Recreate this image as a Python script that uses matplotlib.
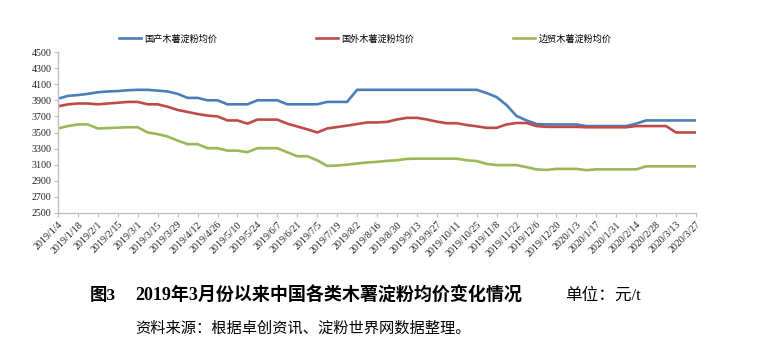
import datetime as dt

import matplotlib
matplotlib.use("Agg")
import matplotlib.pyplot as plt

plt.rcParams["font.family"] = ["Liberation Serif", "Noto Sans CJK SC", "DejaVu Sans"]

# weekly dates 2019/1/4 .. 2020/3/27
start = dt.date(2019, 1, 4)
dates = [start + dt.timedelta(weeks=i) for i in range(65)]
date_labels = [f"{d.year}/{d.month}/{d.day}" for d in dates]

series_names = ["国产木薯淀粉均价", "国外木薯淀粉均价", "边贸木薯淀粉均价"]

domestic = [3920, 3955, 3965, 3980, 4000, 4010, 4015, 4025, 4030, 4030,
            4020, 4010, 3980, 3930, 3930, 3900, 3900, 3850, 3850, 3850,
            3900, 3900, 3900, 3850, 3850, 3850, 3850, 3880, 3880, 3880,
            4030, 4030, 4030, 4030, 4030, 4030, 4030, 4030, 4030, 4030,
            4030, 4030, 4030, 3990, 3940, 3840, 3705, 3650, 3605, 3600,
            3600, 3600, 3600, 3580, 3580, 3580, 3580, 3580, 3610, 3650,
            3650, 3650, 3650, 3650, 3650]

foreign = [3825, 3850, 3860, 3860, 3850, 3860, 3870, 3880, 3880, 3850,
           3850, 3820, 3780, 3755, 3730, 3710, 3700, 3650, 3650, 3610,
           3660, 3660, 3660, 3610, 3575, 3540, 3500, 3550, 3568, 3585,
           3605, 3625, 3625, 3632, 3662, 3682, 3682, 3662, 3635, 3615,
           3615, 3593, 3577, 3558, 3558, 3600, 3618, 3618, 3580, 3570,
           3570, 3570, 3570, 3565, 3565, 3565, 3565, 3565, 3580, 3580,
           3580, 3580, 3500, 3500, 3500]

border = [3550, 3580, 3600, 3600, 3550, 3555, 3560, 3565, 3565, 3500,
          3480, 3450, 3400, 3355, 3355, 3305, 3305, 3275, 3275, 3255,
          3305, 3305, 3305, 3255, 3205, 3205, 3155, 3085, 3090, 3100,
          3115, 3128, 3135, 3148, 3155, 3172, 3175, 3175, 3175, 3175,
          3175, 3155, 3145, 3110, 3095, 3095, 3095, 3070, 3042, 3035,
          3048, 3048, 3048, 3032, 3042, 3042, 3042, 3042, 3042, 3080,
          3080, 3080, 3080, 3080, 3080]

colors = ["#4a7ebb", "#be4b48", "#98b954"]
axis_gray = "#bfbfbf"

fig = plt.figure(figsize=(7.74, 3.54), dpi=100)
ax = fig.add_axes([58 / 774, 1 - 213 / 354, 638 / 774, 161 / 354])

x = list(range(len(dates)))
for vals, name, c in zip([domestic, foreign, border], series_names, colors):
    ax.plot(x, vals, color=c, lw=1.9, label=name, solid_joinstyle="round")

ax.set_xlim(0, 64)
ax.set_ylim(2500, 4500)
ax.set_yticks(range(2500, 4501, 200))
ax.set_xticks(x[::2])
ax.set_xticklabels(date_labels[::2], rotation=45, ha="right",
                   rotation_mode="anchor", fontsize=7.2)
ax.tick_params(axis="y", labelsize=7.2, length=3, color=axis_gray, pad=1.5,
               labelcolor="#222222")
ax.tick_params(axis="x", length=3, color=axis_gray, pad=2,
               labelcolor="#222222")

for side in ["top", "right"]:
    ax.spines[side].set_visible(False)
for side in ["left", "bottom"]:
    ax.spines[side].set_color(axis_gray)
    ax.spines[side].set_linewidth(1.0)

fig.legend(loc="center", bbox_to_anchor=(0.4716, 1 - 39 / 354), ncol=3,
           frameon=False, prop={"family": ["Noto Sans CJK SC"], "size": 6.6},
           handlelength=2.4, handletextpad=0.35, columnspacing=10.8)

# caption and source
cap_y = 1 - 296 / 354
fig.text(90 / 774, cap_y, "图3", fontsize=12.5, fontweight="bold", va="center")
fig.text(135 / 774, cap_y, "2019年3月份以来中国各类木薯淀粉均价变化情况",
         fontsize=13, fontweight="bold", va="center")
fig.text(565 / 774, cap_y, "单位：元/t", fontsize=12, va="center")
fig.text(135 / 774, 1 - 328 / 354, "资料来源：根据卓创资讯、淀粉世界网数据整理。",
         fontsize=11, va="center")

fig.savefig("out.png", dpi=100)
